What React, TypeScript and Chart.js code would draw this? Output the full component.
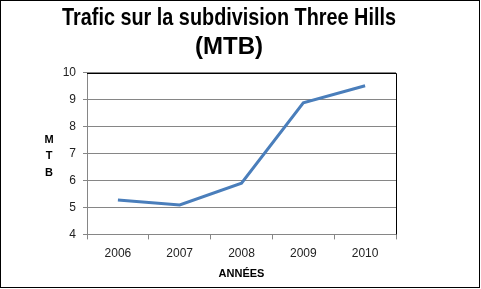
import React, { useEffect, useRef } from "react";
import { Chart, registerables } from "chart.js";

Chart.register(...registerables);

const years = ["2006", "2007", "2008", "2009", "2010"];
const mtbValues = [5.28, 5.09, 5.9, 8.88, 9.51];
const titleLines = ["Trafic sur la subdivision Three Hills", "(MTB)"];
const yTitleLetters = ["M", "T", "B"];
const xTitle = "ANNÉES";
const yMin = 4;
const yMax = 10;

const decorPlugin = {
  id: "decor",
  afterDraw(chart: any) {
    const { ctx, chartArea, width, height } = chart;
    ctx.save();
    // plot area top/right black border
    ctx.strokeStyle = "#000";
    ctx.lineWidth = 1;
    ctx.beginPath();
    ctx.moveTo(chartArea.left, Math.round(chartArea.top) + 0.5);
    ctx.lineTo(Math.round(chartArea.right) + 0.5, Math.round(chartArea.top) + 0.5);
    ctx.lineTo(Math.round(chartArea.right) + 0.5, chartArea.bottom);
    ctx.stroke();
    // outer border
    ctx.strokeRect(0.5, 0.5, width - 2, height - 2);
    // stacked y title
    ctx.fillStyle = "#000";
    ctx.font = "bold 11px 'Liberation Sans', Arial, sans-serif";
    ctx.textAlign = "center";
    ctx.textBaseline = "middle";
    const cy = (chartArea.top + chartArea.bottom) / 2 + 2.5;
    const step = 16.5;
    yTitleLetters.forEach((l, i) => {
      ctx.fillText(l, chartArea.left - 38, cy + (i - (yTitleLetters.length - 1) / 2) * step);
    });
    ctx.restore();
  },
};

export default function App() {
  const ref = useRef<HTMLCanvasElement | null>(null);
  useEffect(() => {
    if (!ref.current) return;
    const chart = new Chart(ref.current, {
      type: "line",
      data: {
        labels: years,
        datasets: [
          {
            data: mtbValues,
            borderColor: "#4a7ebb",
            borderWidth: 3,
            pointRadius: 0,
            tension: 0,
            fill: false,
          },
        ],
      },
      options: {
        responsive: false,
        animation: false,
        layout: { padding: { left: 62, right: 85, top: 4, bottom: 8 } },
        plugins: {
          legend: { display: false },
          tooltip: { enabled: false },
          title: {
            display: true,
            text: titleLines,
            color: "#000",
            font: { family: "'Liberation Sans Narrow', 'Liberation Sans', Arial, sans-serif", size: 24, weight: "bold", lineHeight: 1.2 },
            padding: { top: 0, bottom: 11 },
          },
        },
        scales: {
          x: {
            offset: true,
            grid: {
              offset: true,
              drawOnChartArea: false,
              drawTicks: true,
              tickLength: 5,
              color: "#868686",
            },
            border: { display: true, color: "#868686" },
            ticks: {
              color: "#222",
              padding: 7,
              font: { family: "'Liberation Sans', Arial, sans-serif", size: 12 },
            },
            title: {
              display: true,
              text: xTitle,
              color: "#000",
              font: { family: "'Liberation Sans', Arial, sans-serif", size: 11, weight: "bold" },
              padding: { top: 0, bottom: 0 },
            },
          },
          y: {
            min: yMin,
            max: yMax,
            afterFit: (scale: any) => {
              scale.width = 25;
            },
            ticks: {
              stepSize: 1,
              color: "#222",
              padding: 7,
              font: { family: "'Liberation Sans', Arial, sans-serif", size: 12 },
            },
            grid: {
              color: "#868686",
              tickLength: 4,
              drawTicks: true,
            },
            border: { display: true, color: "#868686" },
          },
        },
      },
      plugins: [decorPlugin],
    });
    return () => chart.destroy();
  }, []);
  return (
    <div style={{ position: "absolute", left: 0, top: 0, width: 481, height: 289, background: "#fff" }}>
      <canvas ref={ref} width={481} height={289} style={{ display: "block" }} />
    </div>
  );
}
